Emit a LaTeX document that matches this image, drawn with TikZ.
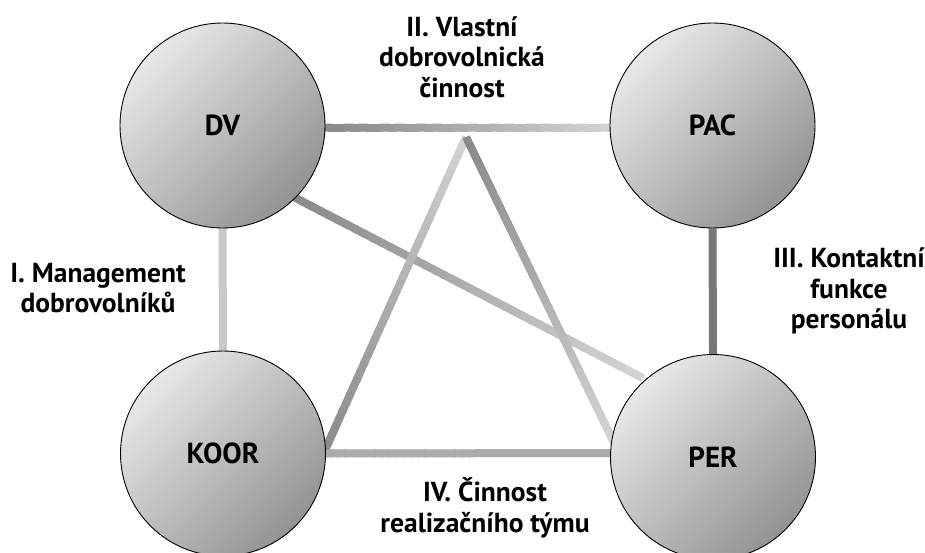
\documentclass[tikz,border=0pt]{standalone}
\usepackage{fontspec}
\setmainfont{PT Sans}
\usetikzlibrary{calc}
\pgfdeclarelayer{bg}
\pgfsetlayers{bg,main}
\definecolor{cdark}{HTML}{888888}
\definecolor{clight}{HTML}{D4D4D4}
\definecolor{cmid}{HTML}{ABABAB}
\definecolor{cvert}{HTML}{C8C8C8}
\definecolor{cpp}{HTML}{777777}
\definecolor{ctop}{HTML}{E8E8E8}
\definecolor{cbot}{HTML}{939393}
\newcommand\gradline[4]{%
  \foreach \i in {0,...,39}{%
    \pgfmathsetmacro\s{\i/40}%
    \pgfmathsetmacro\e{min(1,(\i+1.4)/40)}%
    \pgfmathtruncatemacro\p{100-(\i+0.5)*2.5}%
    \draw[conn, color=#3!\p!#4] ($(#1)!\s!(#2)$) -- ($(#1)!\e!(#2)$);
  }%
}
\tikzset{
  conn/.style={line width=8pt, line cap=butt},
  ball/.style={circle, draw=black, line width=0.9pt, minimum size=205pt, inner sep=0pt,
    top color=ctop, bottom color=cbot, shading angle=45,
    font=\fontsize{29}{32}\selectfont\bfseries},
  lab/.style={align=center, font=\fontsize{27.5}{30.5}\selectfont\bfseries}
}
\begin{document}
\begin{tikzpicture}[x=1pt,y=-1pt]
\useasboundingbox (0,0) rectangle (925,552);
\node[ball] (DV) at (222.5,125.5) {DV};
\node[ball] (PAC) at (712.5,125.5) {PAC};
\node[ball] (KOOR) at (223,453.5) {KOOR};
\node[ball] (PER) at (713,457) {PER};
\coordinate (apex) at (466,137);
\coordinate (dvE) at ($(DV.east)+(-4,2)$);
\coordinate (pacW) at ($(PAC.west)+(4,2)$);
\coordinate (koorE) at ($(KOOR.-2)+(-4,0)$);
\coordinate (perW) at ($(PER.173)+(4,0)$);
\coordinate (koorEh) at ($(KOOR.east)+(-4,0)$);
\coordinate (perWh) at ($(PER.west)+(4,-4)$);
\coordinate (dvSE) at ($(DV.south east)+(-3,-2)$);
\coordinate (perNW) at ($(PER.north west)+(3,-6)$);
\begin{pgfonlayer}{bg}
  \gradline{dvE}{pacW}{cdark}{clight}
  \gradline{dvSE}{perNW}{cdark}{clight}
  \gradline{apex}{koorE}{clight}{cdark}
  \gradline{apex}{perW}{cdark}{clight}
  \gradline{koorEh}{perWh}{cmid}{cmid}
  \draw[conn, cvert] (DV.south) -- (KOOR.north);
  \draw[conn, cpp] (PAC.south) -- (PER.north);
\end{pgfonlayer}
\node[lab] (l2) at (462,57) {II. Vlastní\\dobrovolnická\\činnost};
\node[lab] (l1) at (98,288) {I. Management\\dobrovolníků};
\node[lab] (l3) at (849,291) {III. Kontaktní\\funkce\\personálu};
\node[lab] (l4) at (485,508) {IV. Činnost\\realizačního týmu};
\end{tikzpicture}
\end{document}
